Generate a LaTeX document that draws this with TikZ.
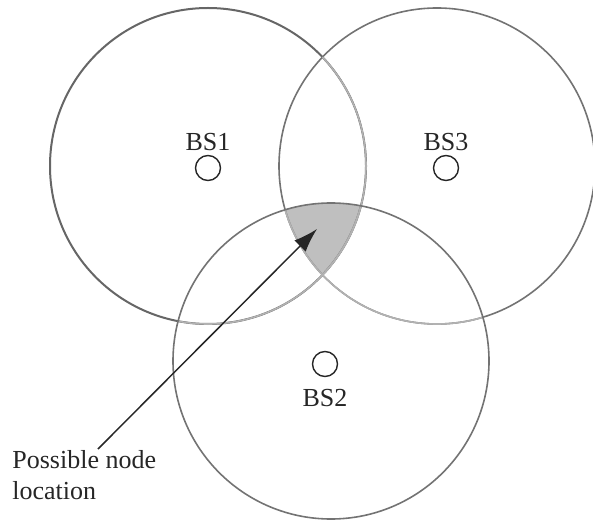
\documentclass[tikz,border=0pt]{standalone}
\usepackage{fontspec}
\setmainfont{Liberation Serif}
\usetikzlibrary{arrows.meta,positioning}

\tikzset{
    cell/.style   = {draw=black!55, line width=0.8pt},
    faint/.style  = {draw=black!30, line width=0.8pt},
    bsmark/.style = {circle, draw=black!85, line width=0.7pt, minimum size=12.5pt, inner sep=0pt},
    bslabel/.style= {inner sep=0pt, text=black!85, font=\fontsize{13}{15.5}\selectfont},
    pointer/.style= {-{Latex[length=12pt,width=8pt]}, line width=0.75pt, black!85}
}

\begin{document}
\begin{tikzpicture}[x=0.5pt, y=-0.5pt]
    \useasboundingbox (0,0) rectangle (593,523);

    % Cell centres {c1, c2, c3}
    \coordinate (c1) at (208,166);
    \coordinate (c2) at (331,361);
    \coordinate (c3) at (437,166);

    % Overlap of the three cells
    \begin{scope}
        \clip (c1) circle [radius=158];
        \clip (c3) circle [radius=158];
        \fill [black!25] (c2) circle [radius=158];
    \end{scope}

    % Cells
    \draw [cell, draw=black!60, line width=1pt] (c1) circle [radius=158];
    \draw [cell] (c3) circle [radius=158];

    % Lighter arcs where the cells cover each other
    \begin{scope}
        \clip (c3) circle [radius=158];
        \draw [faint] (c1) circle [radius=158];
    \end{scope}
    \begin{scope}
        \clip (c2) circle [radius=158];
        \draw [faint] (c1) circle [radius=158];
        \draw [faint] (c3) circle [radius=158];
    \end{scope}
    \draw [cell] (c2) circle [radius=158];

    % Base stations {bs1, bs2, bs3}
    \node [bsmark]  (bs1) at (208,168) {};
    \node [bsmark]  (bs2) at (325,364) {};
    \node [bsmark]  (bs3) at (446,168) {};
    \node [bslabel, above=2pt of bs1]  (l1) {BS1};
    \node [bslabel, below=6pt of bs2]  (l2) {BS2};
    \node [bslabel, above=2pt of bs3]  (l3) {BS3};

    % Pointer to the overlap
    \node [bslabel, align=left, anchor=north west] (loc) at (12,450) {Possible node\\location};
    \coordinate (tail) at (98,449);
    \coordinate (tip)  at (317,229);
    \draw [pointer] (tail) -- (tip);
\end{tikzpicture}
\end{document}
